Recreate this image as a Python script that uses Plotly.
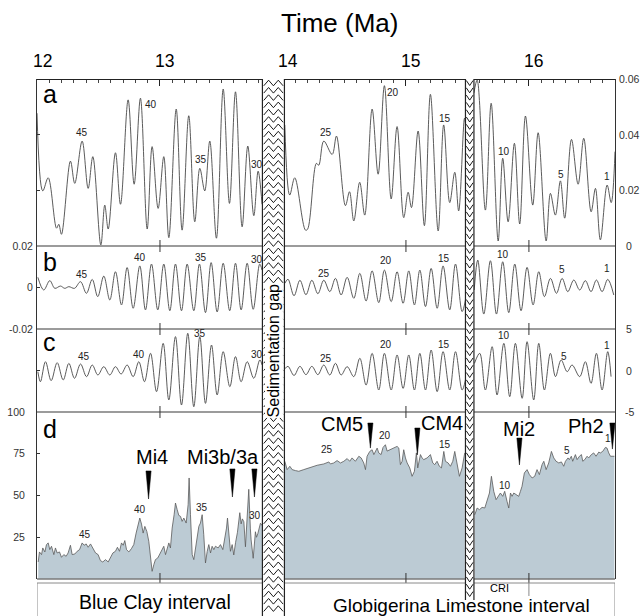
import plotly.graph_objects as go

# ---------------- data ----------------
# panel a : amplitude series (extrema), three segments split by the gaps
A1_T = [12.000, 12.047, 12.091, 12.159, 12.177, 12.199, 12.272, 12.307, 12.367, 12.416,
        12.454, 12.519, 12.551, 12.579, 12.638, 12.679, 12.741, 12.790, 12.841, 12.896,
        12.936, 12.985, 13.031, 13.072, 13.132, 13.180, 13.234, 13.283, 13.324, 13.364,
        13.405, 13.459, 13.514, 13.565, 13.614, 13.668, 13.714, 13.763, 13.798, 13.830]
A1_V = [0.0477, 0.0198, 0.0245, 0.0064, 0.0078, 0.0042, 0.0305, 0.0225, 0.0377, 0.0207,
        0.0321, 0.0004, 0.0147, 0.0061, 0.0335, 0.0150, 0.0525, 0.0222, 0.0531, 0.0061,
        0.0357, 0.0135, 0.0321, 0.0030, 0.0492, 0.0057, 0.0468, 0.0087, 0.0279, 0.0198,
        0.0377, 0.0028, 0.0564, 0.0153, 0.0554, 0.0069, 0.0359, 0.0109, 0.0269, 0.0150]
A2_T = [14.015, 14.055, 14.096, 14.183, 14.200, 14.272, 14.291, 14.332, 14.400, 14.435,
        14.508, 14.541, 14.576, 14.624, 14.665, 14.725, 14.774, 14.825, 14.880, 14.928,
        14.982, 15.018, 15.045, 15.099, 15.150, 15.199, 15.262, 15.307, 15.356, 15.397,
        15.429, 15.476, 15.484]
A2_V = [0.0435, 0.0183, 0.0245, 0.0057, 0.0060, 0.0297, 0.0290, 0.0377, 0.0329, 0.0395,
        0.0145, 0.0195, 0.0090, 0.0229, 0.0111, 0.0492, 0.0258, 0.0576, 0.0169, 0.0429,
        0.0102, 0.0193, 0.0138, 0.0413, 0.0073, 0.0545, 0.0054, 0.0435, 0.0156, 0.0265,
        0.0126, 0.0459, 0.0440]
A3_T = [15.553, 15.579, 15.646, 15.693, 15.750, 15.787, 15.831, 15.882, 15.925, 15.972,
        16.031, 16.075, 16.140, 16.175, 16.215, 16.256, 16.291, 16.346, 16.400, 16.446,
        16.506, 16.541, 16.581, 16.636, 16.669, 16.700]
A3_V = [0.0550, 0.0596, 0.0129, 0.0513, 0.0018, 0.0315, 0.0087, 0.0369, 0.0079, 0.0467,
        0.0147, 0.0407, 0.0018, 0.0189, 0.0111, 0.0234, 0.0100, 0.0383, 0.0222, 0.0387,
        0.0123, 0.0207, 0.0022, 0.0219, 0.0156, 0.0339]

# panel b : filtered signal (extrema)
B1_T = [12.007, 12.055, 12.104, 12.145, 12.191, 12.226, 12.259, 12.305, 12.354, 12.402,
        12.449, 12.494, 12.543, 12.592, 12.638, 12.687, 12.733, 12.782, 12.836, 12.882,
        12.931, 12.982, 13.031, 13.080, 13.126, 13.175, 13.221, 13.275, 13.321, 13.370,
        13.416, 13.465, 13.514, 13.567, 13.614, 13.660, 13.709, 13.758, 13.811, 13.830]
B1_V = [0.0049, -0.0012, 0.0033, -0.0004, 0.0007, -0.0004, 0.0004, -0.0004, 0.0028, -0.0028,
        0.0039, -0.0044, 0.0055, -0.0060, 0.0076, -0.0084, 0.0096, -0.0100, 0.0104, -0.0108,
        0.0113, -0.0108, 0.0113, -0.0112, 0.0113, -0.0112, 0.0113, -0.0112, 0.0113, -0.0121,
        0.0120, -0.0118, 0.0117, -0.0112, 0.0117, -0.0108, 0.0117, -0.0105, 0.0113, 0.0084]
B2_T = [14.015, 14.041, 14.090, 14.138, 14.187, 14.235, 14.284, 14.332, 14.381, 14.427,
        14.473, 14.522, 14.576, 14.625, 14.676, 14.725, 14.779, 14.825, 14.880, 14.928,
        14.977, 15.023, 15.069, 15.113, 15.159, 15.205, 15.254, 15.302, 15.356, 15.403,
        15.457, 15.484]
B2_V = [0.0020, 0.0040, -0.0040, 0.0035, -0.0035, 0.0035, -0.0030, 0.0035, -0.0020, 0.0044,
        -0.0036, 0.0049, -0.0052, 0.0068, -0.0065, 0.0080, -0.0073, 0.0084, -0.0068, 0.0076,
        -0.0076, 0.0080, -0.0084, 0.0084, -0.0092, 0.0092, -0.0100, 0.0104, -0.0108, 0.0113,
        -0.0116, -0.0060]
B3_T = [15.555, 15.584, 15.633, 15.687, 15.736, 15.787, 15.836, 15.885, 15.936, 15.985,
        16.034, 16.080, 16.126, 16.175, 16.224, 16.270, 16.316, 16.365, 16.413, 16.459,
        16.505, 16.549, 16.595, 16.641, 16.690]
B3_V = [-0.0012, 0.0132, -0.0128, 0.0129, -0.0128, 0.0124, -0.0121, 0.0113, -0.0112, 0.0097,
        -0.0084, 0.0076, -0.0044, 0.0044, -0.0028, 0.0044, -0.0020, 0.0036, -0.0012, 0.0033,
        -0.0020, 0.0036, -0.0020, 0.0039, -0.0036]

# panel c : insolation / model signal (extrema)
C1_T = [12.007, 12.028, 12.069, 12.115, 12.164, 12.213, 12.259, 12.305, 12.354, 12.403,
        12.449, 12.495, 12.543, 12.592, 12.638, 12.684, 12.733, 12.782, 12.828, 12.874,
        12.923, 12.972, 13.026, 13.072, 13.126, 13.175, 13.226, 13.275, 13.324, 13.370,
        13.419, 13.465, 13.514, 13.568, 13.614, 13.660, 13.709, 13.763, 13.812, 13.831]
C1_V = [-0.14, -1.35, 1.06, -1.22, 0.94, -1.14, 0.86, -0.94, 0.78, -0.74,
        0.66, -0.54, 0.46, -0.54, 0.46, -0.42, 0.66, -0.74, 1.06, -1.35,
        2.07, -2.55, 3.27, -3.55, 4.08, -4.16, 4.48, -4.36, 4.08, -3.96,
        3.07, -2.95, 2.27, -1.95, 1.67, -1.35, 1.06, -0.94, 1.27, 0.66]
C2_T = [14.015, 14.041, 14.090, 14.138, 14.187, 14.235, 14.284, 14.332, 14.381, 14.427,
        14.473, 14.522, 14.576, 14.625, 14.676, 14.725, 14.779, 14.825, 14.880, 14.928,
        14.977, 15.023, 15.069, 15.113, 15.159, 15.205, 15.254, 15.302, 15.356, 15.403,
        15.457, 15.484]
C2_V = [0.20, 0.50, -0.60, 0.50, -0.50, 0.50, -0.50, 0.66, -0.54, 0.86,
        -0.54, 0.46, -0.74, 1.47, -1.75, 2.07, -2.35, 2.07, -2.35, 1.87,
        -2.15, 1.87, -2.35, 2.07, -2.35, 2.47, -2.55, 2.27, -2.35, 2.27,
        -2.35, -1.14]
C3_T = [15.557, 15.600, 15.646, 15.701, 15.741, 15.796, 15.844, 15.890, 15.945, 15.985,
        16.039, 16.080, 16.126, 16.175, 16.216, 16.262, 16.311, 16.351, 16.413, 16.459,
        16.505, 16.549, 16.595, 16.641, 16.668]
C3_V = [0.86, 2.07, -2.35, 2.87, -2.95, 3.27, -3.15, 3.27, -3.35, 3.47,
        -3.55, 3.27, -2.35, 2.07, -0.74, 1.27, -0.14, 0.66, -0.74, 1.06,
        -1.55, 2.07, -2.35, 2.27, -0.74]

# panel d : carbonate content (%)
D1_T = [12.010, 12.020, 12.037, 12.047, 12.064, 12.077, 12.091, 12.104, 12.118, 12.137,
        12.150, 12.164, 12.183, 12.199, 12.218, 12.237, 12.253, 12.272, 12.286, 12.308,
        12.327, 12.346, 12.367, 12.383, 12.400, 12.416, 12.435, 12.454, 12.476, 12.497,
        12.516, 12.535, 12.557, 12.579, 12.598, 12.617, 12.638, 12.654, 12.671, 12.687,
        12.701, 12.714, 12.728, 12.747, 12.768, 12.787, 12.806, 12.822, 12.836, 12.850,
        12.863, 12.877, 12.893, 12.909, 12.923, 12.936, 12.950, 12.963, 12.982, 12.996,
        13.012, 13.031, 13.045, 13.058, 13.072, 13.085, 13.099, 13.115, 13.126, 13.140,
        13.153, 13.167, 13.180, 13.194, 13.213, 13.229, 13.237, 13.248, 13.262, 13.275,
        13.289, 13.305, 13.316, 13.329, 13.343, 13.356, 13.370, 13.384, 13.397, 13.411,
        13.424, 13.438, 13.451, 13.473, 13.492, 13.511, 13.527, 13.541, 13.549, 13.560,
        13.573, 13.587, 13.600, 13.615, 13.630, 13.649, 13.660, 13.670, 13.682, 13.695,
        13.705, 13.722, 13.735, 13.741, 13.758, 13.768, 13.776, 13.785, 13.795, 13.817,
        13.831]
D1_V = [10.2, 16.2, 14.6, 18.6, 16.2, 20.6, 21.6, 17.6, 19.6, 14.6,
        18.6, 15.6, 16.2, 13.0, 14.6, 13.6, 15.6, 20.2, 14.6, 15.0,
        16.6, 17.6, 21.6, 20.2, 21.0, 19.0, 21.0, 18.6, 15.6, 14.6,
        11.0, 10.2, 11.6, 10.2, 13.0, 15.6, 16.6, 19.0, 16.6, 21.6,
        20.2, 23.0, 17.6, 16.2, 18.2, 20.6, 27.5, 33.5, 36.5, 32.9,
        27.5, 31.5, 28.5, 22.6, 10.6, 4.6, 8.6, 11.6, 12.6, 14.6,
        17.0, 19.6, 14.6, 17.6, 21.6, 18.6, 30.5, 38.5, 45.5, 41.5,
        38.1, 37.5, 34.5, 36.5, 33.5, 44.5, 60.5, 38.5, 14.6, 11.6,
        18.6, 23.6, 31.5, 33.5, 38.5, 26.5, 9.6, 16.6, 20.6, 15.6,
        19.6, 17.6, 19.6, 18.6, 20.6, 17.6, 23.6, 30.5, 36.5, 24.6,
        16.6, 20.6, 14.4, 22.0, 28.0, 39.7, 33.0, 36.0, 34.3, 19.3,
        30.0, 53.7, 30.0, 23.4, 12.4, 20.0, 28.3, 25.0, 27.0, 33.4,
        32.0]
D2_T = [14.015, 14.034, 14.056, 14.075, 14.102, 14.129, 14.169, 14.224, 14.278, 14.332,
        14.373, 14.386, 14.413, 14.440, 14.468, 14.495, 14.522, 14.543, 14.562, 14.589,
        14.617, 14.636, 14.657, 14.671, 14.684, 14.706, 14.725, 14.739, 14.766, 14.779,
        14.798, 14.814, 14.833, 14.847, 14.869, 14.888, 14.901, 14.928, 14.942, 14.955,
        14.969, 14.982, 14.996, 15.010, 15.031, 15.050, 15.069, 15.085, 15.096, 15.118,
        15.131, 15.145, 15.172, 15.199, 15.218, 15.234, 15.253, 15.272, 15.289, 15.308,
        15.321, 15.343, 15.362, 15.381, 15.397, 15.416, 15.435, 15.457, 15.478]
D2_V = [70.5, 65.5, 67.5, 65.5, 64.9, 64.5, 65.5, 66.9, 68.1, 68.9,
        70.1, 68.9, 69.5, 70.9, 69.5, 70.5, 72.1, 70.5, 72.5, 70.5,
        73.5, 72.5, 69.5, 65.5, 73.5, 76.4, 77.4, 74.5, 78.4, 75.5,
        74.5, 78.8, 80.4, 76.6, 77.4, 78.4, 78.8, 79.4, 78.4, 68.5,
        70.5, 77.4, 72.5, 69.5, 66.5, 61.5, 64.5, 75.5, 66.5, 74.5,
        72.5, 71.5, 72.5, 74.5, 69.5, 68.5, 70.5, 67.5, 66.5, 76.4,
        70.5, 69.5, 67.5, 70.5, 76.4, 67.5, 61.5, 66.5, 75.5]
D3_T = [15.560, 15.579, 15.598, 15.619, 15.641, 15.660, 15.679, 15.695, 15.714, 15.733,
        15.749, 15.768, 15.787, 15.803, 15.822, 15.836, 15.850, 15.863, 15.877, 15.896,
        15.917, 15.931, 15.944, 15.963, 15.985, 16.004, 16.026, 16.047, 16.066, 16.085,
        16.107, 16.121, 16.140, 16.161, 16.183, 16.202, 16.221, 16.243, 16.264, 16.283,
        16.297, 16.318, 16.329, 16.345, 16.356, 16.378, 16.392, 16.411, 16.427, 16.438,
        16.454, 16.473, 16.486, 16.508, 16.527, 16.546, 16.568, 16.581, 16.600, 16.622,
        16.635, 16.649, 16.663, 16.676, 16.695]
D3_V = [38.5, 42.5, 41.5, 42.9, 42.5, 46.5, 51.5, 61.5, 52.5, 47.5,
        49.5, 51.5, 49.5, 52.5, 46.5, 42.5, 51.5, 49.5, 51.5, 50.5,
        49.5, 52.5, 55.5, 63.5, 65.5, 62.5, 60.5, 61.5, 65.5, 62.5,
        68.5, 70.5, 65.5, 69.5, 76.4, 72.5, 70.5, 69.5, 70.1, 67.5,
        70.5, 72.5, 71.5, 73.5, 70.5, 74.5, 71.5, 73.5, 74.5, 70.5,
        71.5, 73.5, 72.5, 74.5, 75.5, 73.5, 76.0, 75.5, 76.4, 78.8,
        78.4, 75.5, 73.5, 73.5, 73.5]

# cycle numbers
CYCLE_TEXT = ["45", "40", "35", "30", "25", "20", "15", "10", "5", "1"]
A_LAB_T = [12.367, 12.923, 13.335, 13.785, 14.351, 14.896, 15.316, 15.801, 16.262, 16.636]
A_LAB_V = [0.0408, 0.0509, 0.0309, 0.0293, 0.0408, 0.0552, 0.0459, 0.0341, 0.0258, 0.0249]
B_LAB_T = [12.367, 12.841, 13.335, 13.785, 14.337, 14.839, 15.307, 15.790, 16.270, 16.636]
B_LAB_V = [0.0064, 0.0146, 0.0146, 0.0137, 0.0068, 0.0129, 0.0141, 0.0161, 0.0088, 0.0093]
C_LAB_T = [12.380, 12.828, 13.329, 13.785, 14.346, 14.839, 15.307, 15.795, 16.283, 16.636]
C_LAB_V = [1.66, 1.87, 4.40, 1.87, 1.47, 3.19, 3.19, 4.19, 1.66, 2.99]
D_LAB_T = [12.389, 12.836, 13.343, 13.776, 14.359, 14.833, 15.315, 15.803, 16.311, 16.640]
D_LAB_V = [26.9, 41.5, 43.1, 38.1, 77.4, 85.8, 80.4, 56.1, 76.8, 84.4]

# events (panel d)
EVENT_NAMES = ["Mi4", "Mi3b/3a", "CM5", "CM4", "Mi2", "Ph2"]
EVENT_LAB_T = [12.937, 13.512, 14.478, 15.294, 15.917, 16.465]
EVENT_LAB_V = [72.8, 72.8, 93.1, 93.7, 89.8, 91.9]
TRI_T = [12.907, 13.589, 13.768, 14.711, 15.093, 15.923, 16.679]
TRI_TOP = [64.7, 65.9, 65.9, 93.4, 90.4, 84.4, 93.4]
TRI_BOT = [47.9, 49.1, 49.1, 78.4, 74.3, 68.3, 77.8]

# gaps (Ma)
SED_GAP = (13.833, 14.012)
CRI_GAP = (15.484, 15.553)

# axis ticks
X_TICKS = [12, 13, 14, 15, 16]
A_TICKS = [0, 0.02, 0.04, 0.06]
A_TICKTEXT = ["0", "0.02", "0.04", "0.06"]
B_TICKS = [-0.02, 0, 0.02]
B_TICKTEXT = ["-0.02", "0", "0.02"]
C_TICKS = [-5, 0, 5]
C_TICKTEXT = ["-5", "0", "5"]
D_TICKS = [25, 50, 75, 100]

# ---------------- layout helpers ----------------
W, H = 642, 616
ML, MR, MT, MB = 37, 27, 79, 0
PW, PH = W - ML - MR, H - MT - MB
XR = (12.0, 16.70)
FONT = "Liberation Sans, Arial, Helvetica, sans-serif"


def py(p):
    return (H - MB - p) / PH


def pxf(p):
    return (p - ML) / PW


def join(*segs):
    tt, vv = [], []
    for i, (t, v) in enumerate(segs):
        assert len(t) == len(v), (len(t), len(v))
        if i:
            tt.append(None)
            vv.append(None)
        tt += t
        vv += v
    return tt, vv


fig = go.Figure()
LINE = "#484848"
for (segs, ya) in [(((A1_T, A1_V), (A2_T, A2_V), (A3_T, A3_V)), "y"),
                   (((B1_T, B1_V), (B2_T, B2_V), (B3_T, B3_V)), "y2"),
                   (((C1_T, C1_V), (C2_T, C2_V), (C3_T, C3_V)), "y3")]:
    tt, vv = join(*segs)
    fig.add_trace(go.Scatter(x=tt, y=vv, mode="lines", xaxis="x", yaxis=ya,
                             line=dict(color=LINE, width=0.9, shape="spline", smoothing=1.0),
                             hoverinfo="skip", showlegend=False))
for t, v in [(D1_T, D1_V), (D2_T, D2_V), (D3_T, D3_V)]:
    assert len(t) == len(v)
    fig.add_trace(go.Scatter(x=t, y=v, mode="lines", xaxis="x", yaxis="y4", fill="tozeroy",
                             fillcolor="#bccbd4", line=dict(color="#5a5a5a", width=0.8),
                             hoverinfo="skip", showlegend=False))

# panel boundaries (pixels)
P_A = (79, 246)
P_B = (246, 329)
P_C = (329, 412)
P_D = (412, 579)

yax_common = dict(showgrid=False, zeroline=False, showline=True, mirror=True,
                  linecolor="#333", linewidth=1, anchor="x", ticks="inside", ticklen=3,
                  tickcolor="#333", automargin=False,
                  tickfont=dict(family=FONT, size=10.5, color="#333"))

fig.update_layout(
    template="none",
    width=W, height=H, margin=dict(l=ML, r=MR, t=MT, b=MB, pad=0),
    paper_bgcolor="white", plot_bgcolor="white", showlegend=False,
    xaxis=dict(range=list(XR), domain=[0, 1], side="top", anchor="free", position=1,
               showgrid=False, zeroline=False, showline=True, linecolor="#222", linewidth=1,
               tickvals=X_TICKS, showticklabels=False, ticks="inside", ticklen=6,
               tickcolor="#222", automargin=False,
               minor=dict(dtick=0.1, tick0=12, ticks="inside", ticklen=3, tickcolor="#444")),
    yaxis=dict(domain=[py(P_A[1]), py(P_A[0])], range=[0, 0.06], tickvals=[0.02, 0.04],
               showticklabels=False, **yax_common),
    yaxis2=dict(domain=[py(P_B[1]), py(P_B[0])], range=[-0.02, 0.02], tickvals=B_TICKS,
                ticktext=B_TICKTEXT, ticklabelstandoff=1, **yax_common),
    yaxis3=dict(domain=[py(P_C[1]), py(P_C[0])], range=[-5, 5], tickvals=[0],
                showticklabels=False, **yax_common),
    yaxis4=dict(domain=[py(P_D[1]), py(P_D[0])], range=[0, 100], tickvals=D_TICKS,
                ticktext=[str(v) for v in D_TICKS], ticklabelstandoff=9, **yax_common),
)

shapes = []
# horizontal panel separators
for p in [P_A[1], P_B[1], P_C[1], P_D[1]]:
    shapes.append(dict(type="line", xref="paper", yref="paper", x0=0, x1=1, y0=py(p), y1=py(p),
                       line=dict(color="#7a7a7a", width=1.3), layer="above"))
# integer ticks on panel boundaries
for t in [13, 15, 16]:
    for p in [P_A[1], P_B[1], P_C[1], P_D[1]]:
        shapes.append(dict(type="line", xref="x", yref="paper", x0=t, x1=t,
                           y0=py(p - 6), y1=py(p + 6), line=dict(color="#333", width=1),
                           layer="above"))
# bottom lithology box
shapes.append(dict(type="rect", xref="x", yref="paper", x0=XR[0], x1=XR[1], y0=-0.05,
                   y1=py(583), line=dict(color="#8a8a8a", width=1), fillcolor="white",
                   layer="above"))
shapes.append(dict(type="line", xref="x", yref="paper", x0=16, x1=16, y0=py(583), y1=py(596),
                   line=dict(color="#8a8a8a", width=1), layer="above"))
# event triangles
TW = 0.021
for t, top, bot in zip(TRI_T, TRI_TOP, TRI_BOT):
    shapes.append(dict(type="path", xref="x", yref="y4",
                       path=f"M{t - TW},{top} L{t + TW},{top} L{t},{bot} Z",
                       fillcolor="black", line=dict(color="black", width=0.5), layer="above"))


def zigzag(t0, t1, ptop, pbot, fracs, offs, step):
    parts = []
    p = ptop + 4
    while p < pbot - 2:
        pts = [(t0 + f * (t1 - t0), py(p + o)) for f, o in zip(fracs, offs)]
        parts.append("M" + " L".join(f"{x:.5f},{y:.5f}" for x, y in pts))
        p += step
    return " ".join(parts)


for (g0, g1), pbot, fr, of in [
        (SED_GAP, 616, [0.06, 0.28, 0.5, 0.72, 0.94], [2.8, -2.8, 2.8, -2.8, 2.8]),
        (CRI_GAP, 600, [0.1, 0.5, 0.9], [-2.5, 2.5, -2.5])]:
    shapes.append(dict(type="rect", xref="x", yref="paper", x0=g0, x1=g1, y0=py(pbot), y1=py(79),
                       fillcolor="white", line=dict(width=0), layer="above"))
    shapes.append(dict(type="path", xref="x", yref="paper",
                       path=zigzag(g0, g1, 79, pbot, fr, of, 7.3),
                       line=dict(color="black", width=0.9), fillcolor="rgba(0,0,0,0)",
                       layer="above"))
    for g in (g0, g1):
        shapes.append(dict(type="line", xref="x", yref="paper", x0=g, x1=g, y0=py(pbot),
                           y1=py(79), line=dict(color="#222", width=1.2), layer="above"))

fig.update_layout(shapes=shapes)

ann = []


def text(x, y, s, size, xref="paper", yref="paper", color="black", **kw):
    d = dict(x=x, y=y, xref=xref, yref=yref, text=s, showarrow=False,
             xanchor="center", yanchor="middle",
             font=dict(family=FONT, size=size, color=color))
    d.update(kw)
    ann.append(d)


text(pxf(339.5), py(23), "Time (Ma)", 26)
# top tick labels (slightly right of the tick as in the reference)
for v in X_TICKS:
    text(v, py(61), str(v), 17.5, xref="x", xshift=5)
for s, yp in zip("abcd", [94, 261.5, 341.5, 429]):
    text(pxf(49.5), py(yp), s, 25)
# right-side tick labels (panels a and c)
for v, s in zip(A_TICKS, A_TICKTEXT):
    text(pxf(629), v, s, 10.5, yref="y", color="#333")
for v, s in zip(C_TICKS, C_TICKTEXT):
    text(pxf(629), v, s, 10.5, yref="y3", color="#333")
# cycle numbers
for T_, V_, ya in [(A_LAB_T, A_LAB_V, "y"), (B_LAB_T, B_LAB_V, "y2"),
                   (C_LAB_T, C_LAB_V, "y3"), (D_LAB_T, D_LAB_V, "y4")]:
    for t, v, s in zip(T_, V_, CYCLE_TEXT):
        text(t, v, s, 10, xref="x", yref=ya, color="#222")
# events
for t, v, s in zip(EVENT_LAB_T, EVENT_LAB_V, EVENT_NAMES):
    text(t, v, s, 20, xref="x", yref="y4")
# gap label and lithology
text((SED_GAP[0] + SED_GAP[1]) / 2, py(350), "Sedimentation gap", 16, xref="x",
     textangle=-90, bgcolor="white", borderpad=0)
text(pxf(155), py(602), "Blue Clay interval", 19.5)
text(pxf(461.7), py(605.5), "Globigerina Limestone interval", 19)
text(pxf(500), py(587.5), "CRI", 11)

fig.update_layout(annotations=ann)
fig.write_html("out.html")
